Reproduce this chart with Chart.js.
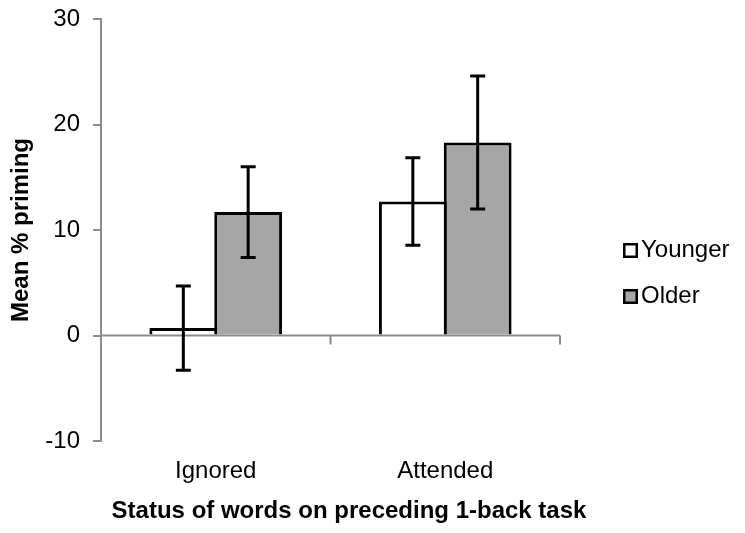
<!DOCTYPE html>
<html>
<head>
<meta charset="utf-8">
<script src="https://cdn.jsdelivr.net/npm/chart.js@4.4.1/dist/chart.umd.min.js"></script>
<style>
    html, body { margin: 0; padding: 0; background: #fff; }
    #wrap { width: 745px; height: 533px; }
</style>
</head>
<body>
<div id="wrap"><canvas id="chart"></canvas></div>
<script>
const categories = ['Ignored', 'Attended'];
const groupNames = ['Younger', 'Older'];
const youngerMeans = [0.7, 12.7];
const olderMeans = [11.7, 18.3];
const youngerErrors = [4.0, 4.15];
const olderErrors = [4.3, 6.3];
const yTicks = [-10, 0, 10, 20, 30];
const yTitle = 'Mean % priming';
const xTitle = 'Status of words on preceding 1-back task';

const family = "'Liberation Sans', Arial, sans-serif";
const axisGray = '#8c8c8c';
const fills = ['#ffffff', '#a6a6a6'];

// zero line, x ticks, error bars, legend and x title
const extras = {
    id: 'extras',
    afterDatasetsDraw(chart) {
        const { ctx, chartArea, scales: { x, y } } = chart;
        const zero = y.getPixelForValue(0);
        const step = x.getPixelForValue(1) - x.getPixelForValue(0);

        ctx.save();
        ctx.strokeStyle = axisGray;
        ctx.lineWidth = 2;
        ctx.beginPath();
        ctx.moveTo(chartArea.left, zero);
        ctx.lineTo(chartArea.right, zero);
        categories.forEach((c, i) => {
            const bx = x.getPixelForValue(i) + step / 2;
            ctx.moveTo(bx, zero);
            ctx.lineTo(bx, zero + 9);
        });
        ctx.stroke();

        ctx.strokeStyle = '#000';
        ctx.lineWidth = 3;
        chart.data.datasets.forEach((ds, di) => {
            const meta = chart.getDatasetMeta(di);
            meta.data.forEach((bar, i) => {
                const top = y.getPixelForValue(ds.data[i] + ds.errors[i]);
                const bot = y.getPixelForValue(ds.data[i] - ds.errors[i]);
                ctx.beginPath();
                ctx.moveTo(bar.x, top);
                ctx.lineTo(bar.x, bot);
                ctx.moveTo(bar.x - 7.5, top);
                ctx.lineTo(bar.x + 7.5, top);
                ctx.moveTo(bar.x - 7.5, bot);
                ctx.lineTo(bar.x + 7.5, bot);
                ctx.stroke();
            });
        });

        // legend
        ctx.font = '24px ' + family;
        ctx.textBaseline = 'alphabetic';
        ctx.textAlign = 'left';
        groupNames.forEach((name, i) => {
            const sx = 623;
            const sy = 243 + i * 46;
            ctx.fillStyle = fills[i];
            ctx.fillRect(sx, sy, 15, 15);
            ctx.strokeStyle = '#000';
            ctx.lineWidth = 2.5;
            ctx.strokeRect(sx + 1.25, sy + 1.25, 12.5, 12.5);
            ctx.fillStyle = '#000';
            ctx.fillText(name, sx + 18, sy + 14);
        });

        ctx.font = 'bold 24px ' + family;
        ctx.textAlign = 'center';
        ctx.fillText(xTitle, 349, 518);
        ctx.restore();
    }
};

new Chart(document.getElementById('chart'), {
    type: 'bar',
    data: {
        labels: categories,
        datasets: [
            {
                label: groupNames[0],
                data: youngerMeans,
                errors: youngerErrors,
                backgroundColor: fills[0],
                borderColor: '#000',
                borderWidth: 3,
            },
            {
                label: groupNames[1],
                data: olderMeans,
                errors: olderErrors,
                backgroundColor: fills[1],
                borderColor: '#000',
                borderWidth: 3,
            },
        ],
    },
    options: {
        responsive: true,
        maintainAspectRatio: false,
        animation: false,
        categoryPercentage: 0.565,
        barPercentage: 1.046,
        layout: { padding: { top: 19, right: 185, left: 0, bottom: 0 } },
        plugins: {
            legend: { display: false },
            tooltip: { enabled: false },
        },
        scales: {
            x: {
                afterFit: (axis) => { axis.height = 92; },
                border: { display: false },
                grid: { display: false, drawTicks: false },
                ticks: { color: '#000', font: { family, size: 24 }, padding: 16 },
            },
            y: {
                min: -10,
                max: 30,
                afterBuildTicks: (axis) => { axis.ticks = yTicks.map((value) => ({ value })); },
                afterFit: (axis) => {
                    axis.width = 101;
                    axis.paddingTop = 0;
                    axis.paddingBottom = 0;
                },
                border: { color: axisGray, width: 2 },
                grid: { drawOnChartArea: false, tickLength: 8, color: axisGray, lineWidth: 2 },
                ticks: { color: '#000', font: { family, size: 24 }, padding: 13 },
                title: {
                    display: true,
                    text: yTitle,
                    color: '#000',
                    font: { family, size: 24, weight: 'bold' },
                    padding: { top: 7, bottom: 0 },
                },
            },
        },
    },
    plugins: [extras],
});
</script>
</body>
</html>
